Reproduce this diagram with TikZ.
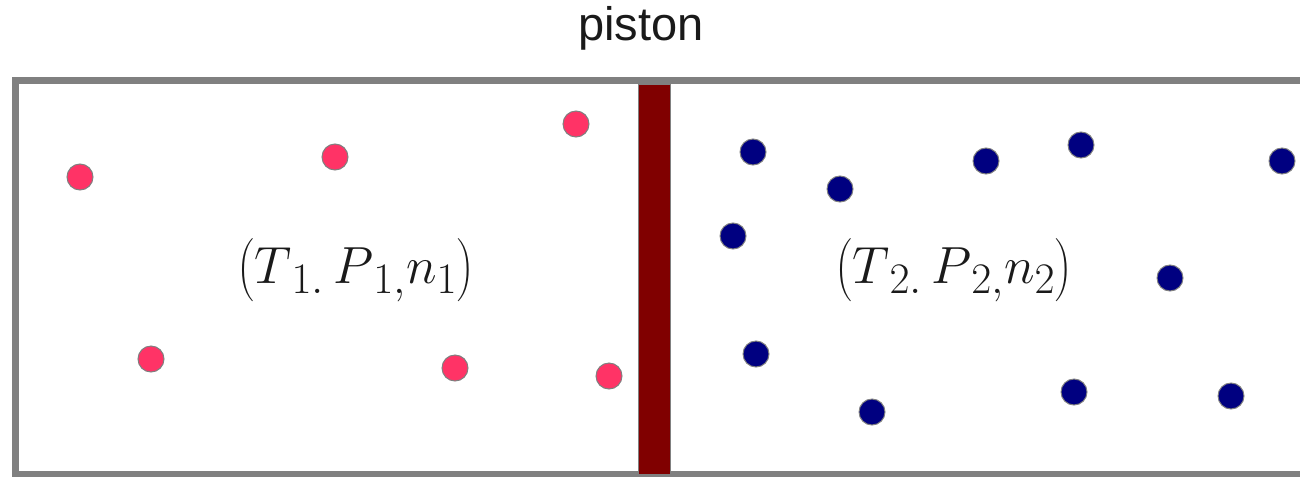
\documentclass[tikz,border=0pt]{standalone}
\usepackage{fontspec}
\setsansfont{Liberation Sans}
\begin{document}
\begin{tikzpicture}[x=1pt,y=-1pt,
  pdot/.style={circle,draw=gray,line width=1pt,fill={rgb,255:red,255;green,51;blue,102},minimum size=26pt,inner sep=0pt},
  bdot/.style={circle,draw=gray,line width=1pt,fill={rgb,255:red,0;green,0;blue,128},minimum size=26pt,inner sep=0pt},
  state/.style={font=\fontsize{24.88}{30}\selectfont,scale=2.1,text={rgb,255:red,26;green,26;blue,26}},
  wall/.style={draw={rgb,255:red,128;green,128;blue,128},line width=6.5pt}]
\useasboundingbox (0,0) rectangle (1300,477);
\draw[wall] (1300,80.5) -- (15.5,80.5) -- (15.5,474) -- (1300,474);
\node[draw=gray,line width=1pt,fill={rgb,255:red,128;green,0;blue,0},minimum width=32pt,minimum height=390pt,inner sep=0pt] (piston) at (654.5,279) {};
\node[font=\sffamily\fontsize{47}{50}\selectfont,text={rgb,255:red,26;green,26;blue,26}] (lbl) at (641,28) {piston};
\node[state] (s1) at (356,270) {$\left(T_{\,1.}\,P_{\,1,}n_{1}\right)$};
\node[state] (s2) at (954,270) {$\left(T_{\,2.}\,P_{\,2,}n_{2}\right)$};
\foreach \x/\y [count=\i] in {80/177,335/157,576/124,151/359,455/368,609/376}
  \node[pdot] (p\i) at (\x,\y) {};
\foreach \x/\y [count=\i] in {753/152,840/189,986/161,1081/145,1282/161,733/236,1170/278,756/354,872/412,1074/392,1231/396}
  \node[bdot] (b\i) at (\x,\y) {};
\end{tikzpicture}
\end{document}
